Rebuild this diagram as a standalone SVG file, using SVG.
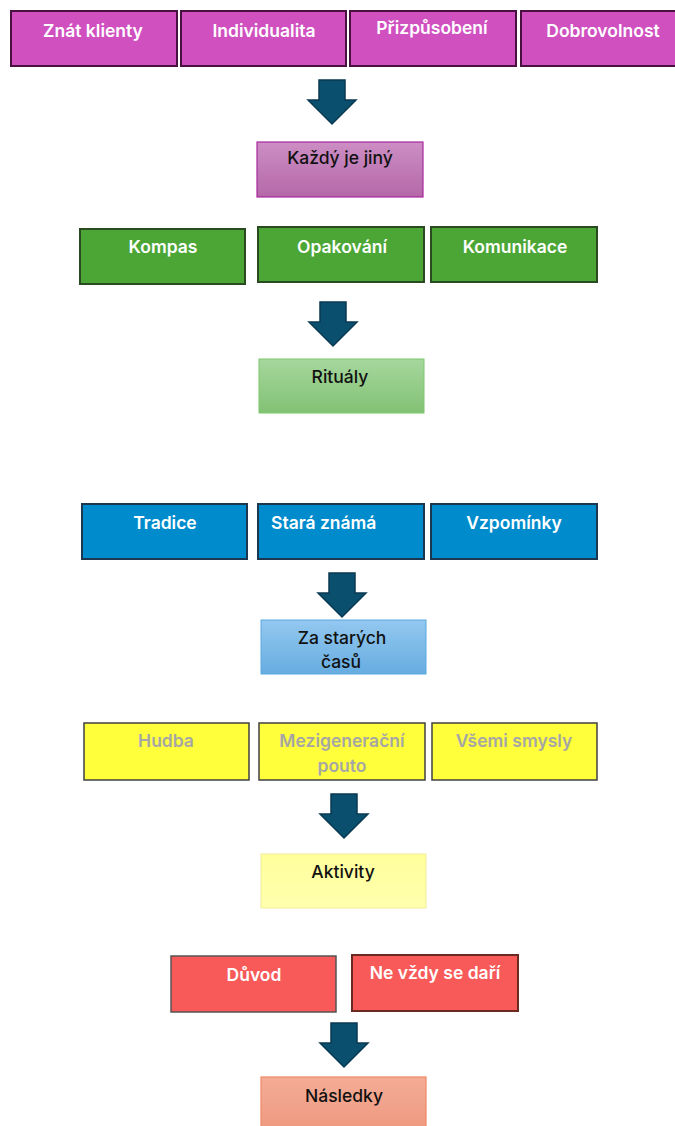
<svg xmlns="http://www.w3.org/2000/svg" width="675" height="1126" viewBox="0 0 675 1126">
<defs>
<linearGradient id="gPurple" x1="0" y1="0" x2="0" y2="1"><stop offset="0" stop-color="#cc8ec4"/><stop offset="1" stop-color="#b568a8"/></linearGradient>
<linearGradient id="gGreen" x1="0" y1="0" x2="0" y2="1"><stop offset="0" stop-color="#a6d69d"/><stop offset="1" stop-color="#82c274"/></linearGradient>
<linearGradient id="gBlue" x1="0" y1="0" x2="0" y2="1"><stop offset="0" stop-color="#93c8f0"/><stop offset="1" stop-color="#67ace0"/></linearGradient>
<linearGradient id="gYellow" x1="0" y1="0" x2="0" y2="1"><stop offset="0" stop-color="#ffff9c"/><stop offset="1" stop-color="#ffffae"/></linearGradient>
<linearGradient id="gSalmon" x1="0" y1="0" x2="0" y2="1"><stop offset="0" stop-color="#f4ac96"/><stop offset="1" stop-color="#ee9a80"/></linearGradient>
<path id="arrow" d="M11 0 H37 V20 H48 L24 44 L0 20 H11 Z"/>
</defs>
<style>
text{font-family:Inter,"Open Sans","Liberation Sans",sans-serif;font-size:17.5px;text-anchor:middle}
.w{fill:#ffffff;font-weight:600}
.k{fill:#111111;font-weight:500}
.g{fill:#a6a6a6;font-weight:600}
.mag{fill:#d050c0;stroke:#4a1040;stroke-width:2}
.grn{fill:#4ca636;stroke:#2a4a22;stroke-width:2}
.blu{fill:#008ccc;stroke:#1c3850;stroke-width:2}
.yel{fill:#ffff3c;stroke:#404040;stroke-width:1.5}
.red{fill:#f85a5a;stroke:#555555;stroke-width:1.5}
.arr{fill:#0b4f6e;stroke:#0a3a52;stroke-width:1.5}
</style>
<g id="connectors">
<use href="#arrow" class="arr" x="308" y="80"/>
<use href="#arrow" class="arr" x="309" y="302"/>
<use href="#arrow" class="arr" x="318" y="573"/>
<use href="#arrow" class="arr" x="320" y="794"/>
<use href="#arrow" class="arr" x="320" y="1023"/>
</g>
<g id="n-znat"><rect class="mag" x="11" y="11" width="166" height="55"/><text class="w" x="93" y="37">Znát klienty</text></g>
<g id="n-indiv"><rect class="mag" x="181" y="11" width="165" height="55"/><text class="w" x="264" y="37">Individualita</text></g>
<g id="n-prizp"><rect class="mag" x="350" y="11" width="166" height="55"/><text class="w" x="432" y="34">Přizpůsobení</text></g>
<g id="n-dobro"><rect class="mag" x="521" y="11" width="160" height="55"/><text class="w" x="603" y="37">Dobrovolnost</text></g>
<g id="n-kazdy"><rect x="257" y="142" width="166" height="55" fill="url(#gPurple)" stroke="#a828a0" stroke-width="1.2"/><text class="k" x="340" y="164">Každý je jiný</text></g>
<g id="n-kompas"><rect class="grn" x="80" y="229" width="165" height="55"/><text class="w" x="163" y="253">Kompas</text></g>
<g id="n-opak"><rect class="grn" x="258" y="227" width="166" height="55"/><text class="w" x="342" y="253">Opakování</text></g>
<g id="n-komun"><rect class="grn" x="431" y="227" width="166" height="55"/><text class="w" x="515" y="253">Komunikace</text></g>
<g id="n-ritualy"><rect x="259" y="359" width="165" height="54" fill="url(#gGreen)" stroke="#7cc86c" stroke-width="1"/><text class="k" x="340" y="383">Rituály</text></g>
<g id="n-tradice"><rect class="blu" x="82" y="504" width="165" height="55"/><text class="w" x="165" y="529">Tradice</text></g>
<g id="n-stara"><rect class="blu" x="258" y="504" width="166" height="55"/><text class="w" x="271" y="529" style="text-anchor:start">Stará známá</text></g>
<g id="n-vzpom"><rect class="blu" x="431" y="504" width="166" height="55"/><text class="w" x="514" y="529">Vzpomínky</text></g>
<g id="n-zastarych"><rect x="261" y="620" width="165" height="54" fill="url(#gBlue)" stroke="#5aa8e0" stroke-width="1"/><text class="k" x="342" y="644">Za starých</text><text class="k" x="341" y="668">časů</text></g>
<g id="n-hudba"><rect class="yel" x="84" y="723" width="165" height="57"/><text class="g" x="166" y="747">Hudba</text></g>
<g id="n-mezi"><rect class="yel" x="259" y="723" width="166" height="57"/><text class="g" x="342" y="747">Mezigenerační</text><text class="g" x="342" y="772">pouto</text></g>
<g id="n-vsemi"><rect class="yel" x="432" y="723" width="165" height="57"/><text class="g" x="514" y="747">Všemi smysly</text></g>
<g id="n-aktivity"><rect x="261" y="854" width="165" height="54" fill="url(#gYellow)" stroke="#f2ec9a" stroke-width="1"/><text class="k" x="343" y="878">Aktivity</text></g>
<g id="n-duvod"><rect class="red" x="171" y="956" width="165" height="56"/><text class="w" x="254" y="981">Důvod</text></g>
<g id="n-nevzdy"><rect class="red" x="352" y="955" width="166" height="56" style="stroke:#6a2a22;stroke-width:2"/><text class="w" x="435" y="979">Ne vždy se daří</text></g>
<g id="n-nasledky"><rect x="261" y="1077" width="165" height="52" fill="url(#gSalmon)" stroke="#f08866" stroke-width="1.2"/><text class="k" x="344" y="1102">Následky</text></g>
</svg>
